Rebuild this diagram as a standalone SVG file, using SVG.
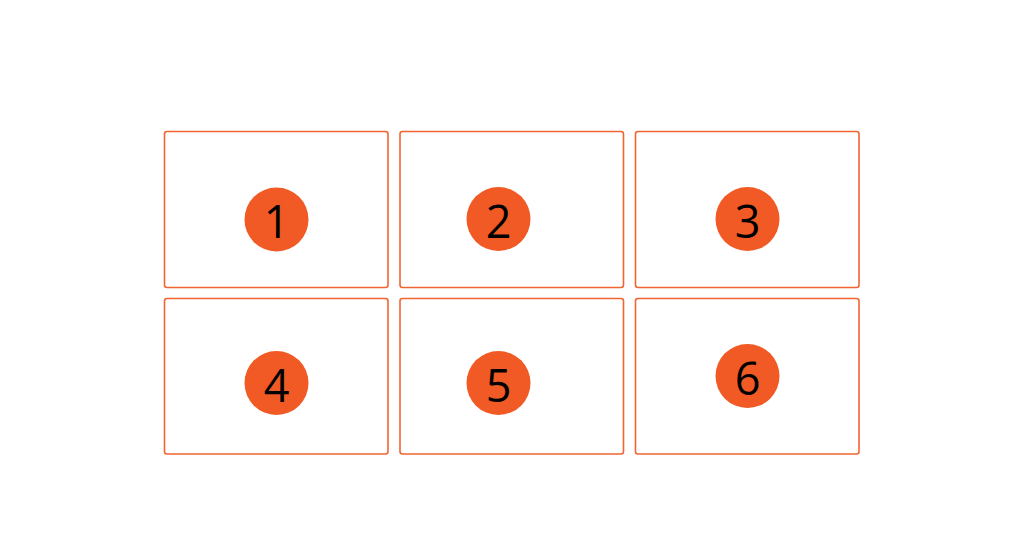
<svg xmlns="http://www.w3.org/2000/svg" width="1024" height="536" viewBox="0 0 1024 536">
<style>
.box{fill:#fff;stroke:#f26532;stroke-width:1.6}
.dot{fill:#f15a24}
.num{font-family:"Open Sans","Noto Sans",sans-serif;font-size:45px;fill:#000;text-anchor:middle}
</style>
<rect width="1024" height="536" fill="#fff"/>
<g id="n1"><rect class="box" x="164.5" y="131.5" width="223.5" height="156" rx="2.5"/><circle class="dot" cx="276.5" cy="219.5" r="32"/><text class="num" x="276.5" y="238">1</text></g>
<g id="n2"><rect class="box" x="400" y="131.5" width="223.5" height="156" rx="2.5"/><circle class="dot" cx="498.5" cy="219" r="32"/><text class="num" x="498.5" y="238">2</text></g>
<g id="n3"><rect class="box" x="635.5" y="131.5" width="223.5" height="156" rx="2.5"/><circle class="dot" cx="747.5" cy="219" r="32"/><text class="num" x="747.5" y="238">3</text></g>
<g id="n4"><rect class="box" x="164.5" y="298.5" width="223.5" height="155.5" rx="2.5"/><circle class="dot" cx="276.5" cy="383" r="32"/><text class="num" x="276.5" y="401.5">4</text></g>
<g id="n5"><rect class="box" x="400" y="298.5" width="223.5" height="155.5" rx="2.5"/><circle class="dot" cx="498.5" cy="383" r="32"/><text class="num" x="498.5" y="401.5">5</text></g>
<g id="n6"><rect class="box" x="635.5" y="298.5" width="223.5" height="155.5" rx="2.5"/><circle class="dot" cx="747.5" cy="376" r="32"/><text class="num" x="747.5" y="395">6</text></g>
<g id="connectors"></g>
</svg>
